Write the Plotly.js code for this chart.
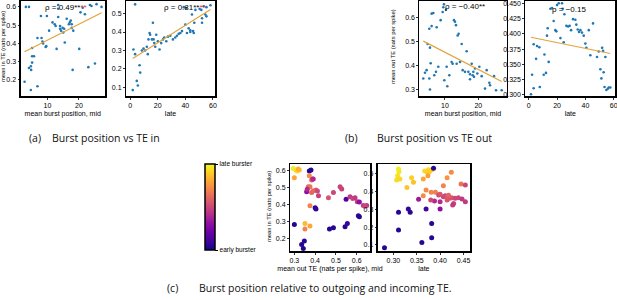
<!DOCTYPE html>
<html><head><meta charset="utf-8">
<script src="https://cdn.plot.ly/plotly-3.0.1.min.js"></script>
<style>html,body{margin:0;padding:0;background:#fff}#chart{width:617px;height:300px}</style>
</head><body><div id="chart"></div>
<script>
// ---- data ----
const aMidPos = [2.7,3.1,4.1,4.7,4.1,4.7,4.8,5.1,5.1,5.7,5.1,6.8,6.8,7.9,8.1,8.4,8.6,9.4,9.6,9.8,10.5,11.6,12.3,12.6,13.4,13.4,13.4,12.9,14.0,14.0,14.3,14.8,15.0,15.3,15.5,16.1,16.8,17.1,17.4,17.7,17.7,18.2,18.0,20.1,20.5,21.2,23.5,24.0,21.9,23.0,25.1,25.6,27.2];
const aMidIn  = [0.19,0.60,0.60,0.145,0.265,0.275,0.255,0.295,0.33,0.33,0.375,0.165,0.43,0.55,0.43,0.41,0.40,0.38,0.385,0.55,0.47,0.515,0.505,0.495,0.61,0.59,0.545,0.37,0.495,0.48,0.47,0.485,0.46,0.48,0.405,0.535,0.505,0.515,0.525,0.505,0.485,0.47,0.255,0.37,0.57,0.595,0.61,0.605,0.56,0.27,0.29,0.615,0.60];
const aLatePos = [1.9,2.4,3.6,3.6,4.8,5.6,6.8,7.3,8.5,9.7,10.9,12.1,12.8,13.3,14.1,14.5,15.8,16.5,17.0,17.5,18.2,18.9,20.1,21.3,22.5,23.8,24.7,26.2,27.4,29.1,31.0,32.7,33.9,35.2,36.4,37.6,40.0,41.2,42.4,44.8,45.6,46.1,47.3,50.4,51.6,53.3,55.3,58.2,38.8,40.7,54.5,52.1,55.3,43.6,43.6,46.5,52.1];
const aLateIn  = [0.085,0.305,0.55,0.28,0.135,0.11,0.22,0.18,0.30,0.31,0.30,0.32,0.28,0.36,0.395,0.385,0.36,0.45,0.36,0.34,0.32,0.385,0.35,0.305,0.34,0.36,0.37,0.35,0.375,0.38,0.36,0.37,0.38,0.39,0.395,0.405,0.44,0.395,0.42,0.495,0.405,0.395,0.52,0.525,0.52,0.54,0.535,0.545,0.535,0.53,0.495,0.475,0.485,0.41,0.40,0.45,0.45];
const bMidPos = [3.5,4.0,4.5,4.8,5.3,5.5,5.3,5.5,5.7,6.0,6.0,6.5,6.8,7.3,7.5,8.0,8.7,9.3,9.7,9.5,9.8,10.3,10.5,10.7,11.3,12.0,12.3,12.7,13.0,13.3,13.5,13.8,14.1,14.5,15.0,15.3,16.0,16.5,17.0,17.5,18.0,18.3,18.5,18.7,19.0,19.7,20.3,21.0,22.0,22.5,23.3,23.5,24.7,25.3,27.0,17.5];
const bMidOut = [0.346,0.37,0.381,0.49,0.554,0.475,0.346,0.30,0.41,0.565,0.617,0.62,0.36,0.374,0.56,0.395,0.59,0.624,0.656,0.644,0.339,0.633,0.395,0.314,0.36,0.415,0.408,0.59,0.583,0.569,0.408,0.526,0.533,0.415,0.49,0.381,0.374,0.46,0.374,0.364,0.408,0.36,0.374,0.353,0.388,0.367,0.395,0.356,0.304,0.381,0.328,0.318,0.356,0.297,0.297,0.343];
const bLatePos = [1.6,2.4,3.5,3.5,5.2,5.9,7.5,7.8,10.6,11.1,12.2,12.9,13.4,14.1,15.3,16.5,17.6,18.8,19.5,20.0,21.2,22.4,23.5,24.0,24.7,25.2,26.6,27.8,28.9,29.9,31.3,32.9,33.6,34.6,35.5,36.5,37.6,38.8,40.0,40.7,42.4,43.5,45.4,48.2,49.4,50.6,51.3,51.8,52.5,52.9,53.5,54.1,54.8,55.8,56.5,57.6];
const bLateOut = [0.301,0.333,0.383,0.311,0.359,0.380,0.378,0.313,0.333,0.366,0.336,0.397,0.409,0.354,0.441,0.442,0.421,0.406,0.404,0.447,0.450,0.393,0.450,0.441,0.386,0.432,0.413,0.412,0.413,0.406,0.424,0.423,0.415,0.407,0.403,0.406,0.402,0.397,0.384,0.377,0.406,0.365,0.417,0.362,0.371,0.342,0.327,0.377,0.372,0.337,0.313,0.362,0.308,0.310,0.312,0.312];
const cMidOut = [0.295,0.308,0.314,0.324,0.300,0.319,0.372,0.380,0.372,0.383,0.388,0.391,0.367,0.375,0.359,0.362,0.383,0.391,0.404,0.411,0.416,0.375,0.400,0.404,0.464,0.488,0.520,0.528,0.549,0.568,0.581,0.592,0.603,0.613,0.632,0.648,0.640,0.608,0.613,0.469,0.488,0.544,0.555,0.300,0.351,0.375,0.351,0.335,0.348,0.343];
const cMidIn  = [0.614,0.604,0.598,0.604,0.559,0.610,0.598,0.604,0.570,0.545,0.551,0.551,0.505,0.505,0.476,0.490,0.472,0.482,0.486,0.480,0.452,0.393,0.381,0.373,0.440,0.472,0.505,0.492,0.432,0.446,0.436,0.440,0.417,0.415,0.395,0.395,0.390,0.334,0.328,0.255,0.263,0.269,0.288,0.282,0.288,0.273,0.255,0.164,0.184,0.140];
const cMidPos = [0.97,0.95,0.92,0.88,0.80,0.82,0.05,0.05,0.72,0.62,0.45,0.40,0.62,0.65,0.30,0.40,0.60,0.62,0.60,0.50,0.48,0.70,0.05,0.08,0.55,0.50,0.50,0.48,0.15,0.45,0.50,0.45,0.45,0.30,0.45,0.45,0.50,0.05,0.05,0.05,0.05,0.05,0.08,0.05,0.85,0.80,0.70,0.05,0.05,0.05];
const cLateOut = [0.311,0.312,0.309,0.307,0.314,0.329,0.339,0.343,0.367,0.372,0.375,0.382,0.377,0.386,0.364,0.374,0.354,0.364,0.370,0.381,0.390,0.407,0.415,0.424,0.397,0.388,0.400,0.407,0.332,0.336,0.311,0.311,0.370,0.382,0.382,0.361,0.281,0.400,0.445,0.454,0.400,0.411,0.415,0.420,0.425,0.432,0.439,0.447,0.429,0.427,0.454,0.380,0.415,0.418];
const cLateIn  = [0.528,0.513,0.490,0.466,0.472,0.423,0.479,0.453,0.517,0.513,0.523,0.523,0.513,0.532,0.472,0.490,0.357,0.377,0.410,0.397,0.397,0.434,0.479,0.509,0.381,0.347,0.344,0.372,0.302,0.284,0.284,0.184,0.302,0.221,0.140,0.114,0.084,0.302,0.443,0.438,0.385,0.377,0.372,0.363,0.366,0.363,0.366,0.359,0.334,0.325,0.344,0.353,0.353,0.380];
const cLatePos = [0.97,0.96,0.95,0.93,0.92,0.88,0.90,0.87,0.93,0.90,0.92,0.88,0.90,0.05,0.80,0.78,0.35,0.72,0.72,0.70,0.68,0.70,0.75,0.72,0.50,0.40,0.40,0.50,0.08,0.05,0.05,0.05,0.10,0.05,0.05,0.05,0.05,0.30,0.65,0.50,0.55,0.50,0.55,0.50,0.55,0.50,0.50,0.45,0.50,0.45,0.45,0.50,0.55,0.60];
const rhoLabels = ['ρ = 0.49**', 'ρ = 0.81**', 'ρ = −0.40**', 'ρ = −0.15'];
const rhoExtra = ['**', '**', '', ''];
const yTitles = ['mean in TE (nats per spike)', 'mean out TE (nats per spike)', 'mean in TE (nats per spike)'];
const captions = ['(a)', 'Burst position vs TE in', '(b)', 'Burst position vs TE out', '(c)', 'Burst position relative to outgoing and incoming TE.'];
const colorbarLabels = ['early burster', 'late burster'];
const ticksPosMid = [10, 20];
const ticksPosLate = [0, 20, 40, 60];
const ticksInMid = [0.2, 0.3, 0.4, 0.5, 0.6];
const ticksInLate = [0.1, 0.2, 0.3, 0.4, 0.5];
const ticksOutMid = [0.3, 0.4, 0.5, 0.6];
const ticksOutLate = [0.300, 0.325, 0.350, 0.375, 0.400, 0.425, 0.450];
const ticksCOutMid = [0.3, 0.4, 0.5, 0.6];
const ticksCOutLate = [0.30, 0.35, 0.40, 0.45];

// ---- helpers ----
function fit(xs, ys) {
  const n = xs.length;
  const mx = xs.reduce((a, b) => a + b, 0) / n, my = ys.reduce((a, b) => a + b, 0) / n;
  let sxy = 0, sxx = 0;
  for (let i = 0; i < n; i++) { sxy += (xs[i] - mx) * (ys[i] - my); sxx += (xs[i] - mx) ** 2; }
  const m = sxy / sxx, b = my - m * mx;
  const x0 = Math.min(...xs), x1 = Math.max(...xs);
  return { x: [x0, x1], y: [m * x0 + b, m * x1 + b] };
}
const plasma = [[0,'#0d0887'],[0.1,'#41049d'],[0.2,'#6a00a8'],[0.3,'#8f0da4'],[0.4,'#b12a90'],[0.5,'#cc4778'],[0.6,'#e16462'],[0.7,'#f2844b'],[0.8,'#fca636'],[0.9,'#fcce25'],[1,'#f0f921']];
const dotColor = '#1f77b4', lineColor = '#e3a33a';
const narrow = 'Liberation Sans Narrow, Arial Narrow, sans-serif';
const sans = 'Liberation Sans, Arial, sans-serif';

const traces = [];
function topPanel(xs, ys, n) {
  const ax = n === 1 ? '' : n;
  traces.push({ x: xs, y: ys, type: 'scatter', mode: 'markers', xaxis: 'x' + ax, yaxis: 'y' + ax,
    marker: { size: 2.6, color: dotColor }, hoverinfo: 'skip' });
  const f = fit(xs, ys);
  traces.push({ x: f.x, y: f.y, type: 'scatter', mode: 'lines', xaxis: 'x' + ax, yaxis: 'y' + ax,
    line: { color: lineColor, width: 1.2 }, hoverinfo: 'skip' });
}
topPanel(aMidPos, aMidIn, 1);
topPanel(aLatePos, aLateIn, 2);
topPanel(bMidPos, bMidOut, 3);
topPanel(bLatePos, bLateOut, 4);
traces.push({ x: cMidOut, y: cMidIn, type: 'scatter', mode: 'markers', xaxis: 'x5', yaxis: 'y5',
  marker: { size: 5, color: cMidPos, colorscale: plasma, cmin: 0, cmax: 1, showscale: true,
    colorbar: { x: 205/617, xanchor: 'left', y: 1 - 164/300, yanchor: 'top', lenmode: 'pixels', len: 86,
      thickness: 10, xpad: 0, ypad: 0, outlinewidth: 1.5, outlinecolor: '#000',
      tickvals: [0, 1], ticktext: colorbarLabels, ticks: 'outside', ticklen: 3, tickwidth: 1, tickcolor: '#000',
      tickfont: { size: 6.5, family: narrow, color: '#000' } } }, hoverinfo: 'skip' });
traces.push({ x: cLateOut, y: cLateIn, type: 'scatter', mode: 'markers', xaxis: 'x6', yaxis: 'y6',
  marker: { size: 5, color: cLatePos, colorscale: plasma, cmin: 0, cmax: 1, showscale: false }, hoverinfo: 'skip' });

function axis(domain, range, tickvals, fmt, title, anchor, tlen) {
  return { domain: domain, range: range, tickvals: tickvals, tickformat: fmt, anchor: anchor,
    showgrid: false, zeroline: false, showline: true, mirror: true, linecolor: '#000', linewidth: 1.5,
    ticks: 'outside', ticklen: tlen || 2.5, tickwidth: 0.8, tickcolor: '#000', ticklabeloverflow: 'allow',
    tickfont: { size: 7, family: narrow, color: '#000' },
    title: { text: title, font: { size: 7, family: narrow, color: '#000' }, standoff: 2 } };
}
const topY = [1 - 96/300, 1 - 0.5/300];
const botY = [1 - 251/300, 1 - 164/300];
const P = v => v / 617;
const layout = {
  width: 617, height: 300, margin: { l: 0, r: 0, t: 0, b: 0 }, showlegend: false,
  paper_bgcolor: '#fff', plot_bgcolor: '#fff',
  xaxis:  axis([P(20.5), P(105)], [1.4, 28.3], ticksPosMid, '', 'mean burst position, mid', 'y'),
  yaxis:  axis(topY, [0.112, 0.635], ticksInMid, '.1f', '', 'x', 1.5),
  xaxis2: axis([P(126), P(215)], [-3, 61.5], ticksPosLate, '', 'late', 'y2'),
  yaxis2: axis(topY, [0.053, 0.571], ticksInLate, '.1f', '', 'x2', 1.5),
  xaxis3: axis([P(419.3), P(506.7)], [2.3, 28.5], ticksPosMid, '', 'mean burst position, mid', 'y3'),
  yaxis3: axis(topY, [0.273, 0.672], ticksOutMid, '.1f', '', 'x3', 1.5),
  xaxis4: axis([P(525.3), P(615.3)], [-2.4, 61.1], ticksPosLate, '', 'late', 'y4'),
  yaxis4: axis(topY, [0.2982, 0.4545], ticksOutLate, '.3f', '', 'x4', 1.5),
  xaxis5: axis([P(290), P(370)], [0.279, 0.664], ticksCOutMid, '.1f', 'mean out TE (nats per spike), mid', 'y5'),
  yaxis5: axis(botY, [0.125, 0.64], ticksInMid, '.1f', '', 'x5', 1.5),
  xaxis6: axis([P(377.7), P(470)], [0.2665, 0.464], ticksCOutLate, '.2f', 'late', 'y6'),
  yaxis6: axis(botY, [0.066, 0.556], ticksInLate, '.1f', '', 'x6', 1.5),
  annotations: []
};
// rho labels: [left px, center y px]
[[43, 8], [162, 7.5], [443, 6.5], [550, 9.5]].forEach((p, i) => {
  const txt = rhoLabels[i] + (rhoExtra[i] ? '<span style="color:#e8303a">' + rhoExtra[i] + '</span>' : '');
  layout.annotations.push({ xref: 'paper', yref: 'paper', x: P(p[0]), y: 1 - p[1]/300, text: txt, showarrow: false,
    xanchor: 'left', yanchor: 'middle', font: { size: 8, family: narrow, color: '#000' } });
});
// y-axis titles: [center x px, center y px]
[[3, 47], [393, 47], [269, 207]].forEach((p, i) => {
  layout.annotations.push({ xref: 'paper', yref: 'paper', x: P(p[0]), y: 1 - p[1]/300, text: yTitles[i], showarrow: false,
    textangle: -90, xanchor: 'center', yanchor: 'middle', borderpad: 0, font: { size: 5.8, family: sans, color: '#000' } });
});
const capFont = { size: 10.5, family: 'Open Sans, sans-serif', color: '#111' };
[[27, 138, 0], [50, 138, 1], [343, 138, 2], [375, 138, 3], [165, 288, 4], [197, 288, 5]].forEach(c => {
  layout.annotations.push({ xref: 'paper', yref: 'paper', x: c[0]/617, y: 1 - c[1]/300, text: captions[c[2]],
    showarrow: false, xanchor: 'left', yanchor: 'middle', font: capFont });
});
Plotly.newPlot('chart', traces, layout, { displayModeBar: false, staticPlot: true });
</script></body></html>
